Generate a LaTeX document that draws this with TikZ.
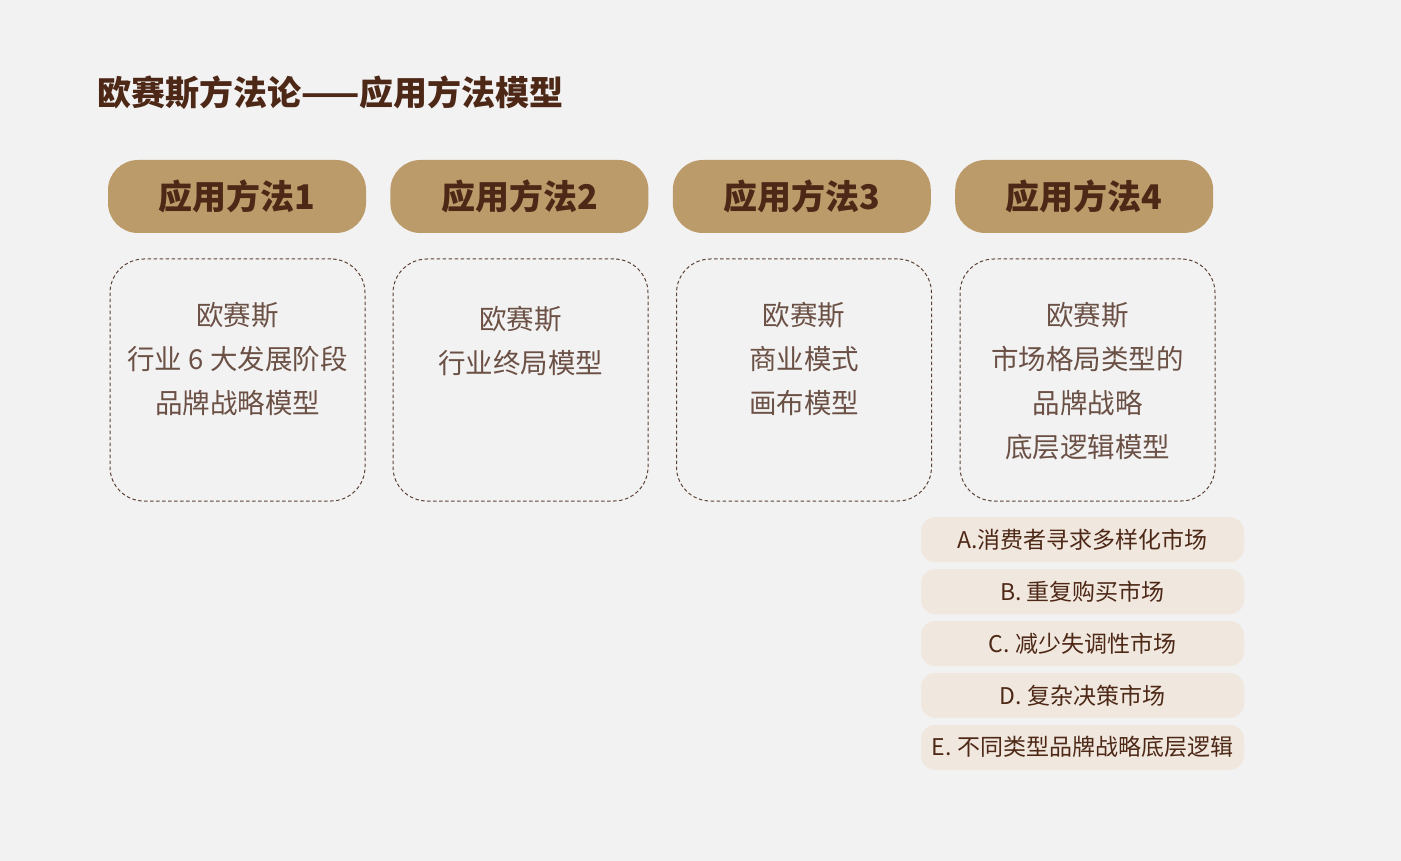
\documentclass[tikz,border=0pt]{standalone}
\usepackage{fontspec}
\setmainfont{Noto Sans CJK SC}
\usetikzlibrary{positioning}
\definecolor{pagebg}{HTML}{F2F2F2}
\definecolor{darkbrown}{HTML}{4E2817}
\definecolor{headerfill}{HTML}{BC9B6A}
\definecolor{modeltext}{HTML}{6B5045}
\definecolor{dashbrown}{HTML}{5E4336}
\definecolor{itemfill}{HTML}{F0E8DE}
\tikzset{
	method header/.style={
		rectangle,
		rounded corners=30pt,
		fill=headerfill,
		minimum width=258pt,
		minimum height=73pt,
		text=darkbrown,
		font=\fontsize{34}{40}\selectfont\bfseries
	},
	model box/.style={
		rectangle,
		rounded corners=34pt,
		draw=dashbrown,
		line width=1pt,
		dash pattern=on 3.5pt off 2.5pt,
		minimum width=255pt,
		minimum height=242pt
	},
	model text/.style={
		anchor=north,
		inner sep=0pt,
		align=center,
		text=modeltext,
		font=\fontsize{27.5}{44}\selectfont
	},
	market item/.style={
		rectangle,
		rounded corners=14pt,
		fill=itemfill,
		minimum width=323pt,
		minimum height=45pt,
		inner sep=0pt,
		text=darkbrown,
		font=\fontsize{23}{26}\selectfont
	}
}

\begin{document}
\begin{tikzpicture}[x=1pt,y=-1pt]
	\fill[pagebg] (0,0) rectangle (1401,861);
	\useasboundingbox (0,0) rectangle (1401,861);
	% title
	\node[anchor=base west,inner sep=0pt,text=darkbrown,font=\fontsize{34}{40}\selectfont\bfseries] (title) at (97,106) {欧赛斯方法论——应用方法模型};
	% headers
	\node[method header] (method1) at (237,196.5) {应用方法1};
	\node[method header,right=24pt of method1] (method2) {应用方法2};
	\node[method header,right=24pt of method2] (method3) {应用方法3};
	\node[method header,right=24pt of method3] (method4) {应用方法4};
	% model boxes
	\node[model box] (model1) at (237.5,380) {};
	\node[model box] (model2) at (520.5,380) {};
	\node[model box] (model3) at (804,380) {};
	\node[model box] (model4) at (1087.5,380) {};
	\node[model text,below=44pt of model1.north] (model1 text) {欧赛斯\\行业 6 大发展阶段\\品牌战略模型};
	\node[model text,below=48pt of model2.north] (model2 text) {欧赛斯\\行业终局模型};
	\node[model text,below=44pt of model3.north] (model3 text) {欧赛斯\\商业模式\\画布模型};
	\node[model text,below=44pt of model4.north] (model4 text) {欧赛斯\\市场格局类型的\\品牌战略\\底层逻辑模型};
	% market types
	\node[market item,below=15.5pt of model4,xshift=-5pt] (itemA) {A.消费者寻求多样化市场};
	\node[market item,below=6.5pt of itemA] (itemB) {B. 重复购买市场};
	\node[market item,below=6.5pt of itemB] (itemC) {C. 减少失调性市场};
	\node[market item,below=6.5pt of itemC] (itemD) {D. 复杂决策市场};
	\node[market item,below=6.5pt of itemD] (itemE) {E. 不同类型品牌战略底层逻辑};
\end{tikzpicture}
\end{document}
